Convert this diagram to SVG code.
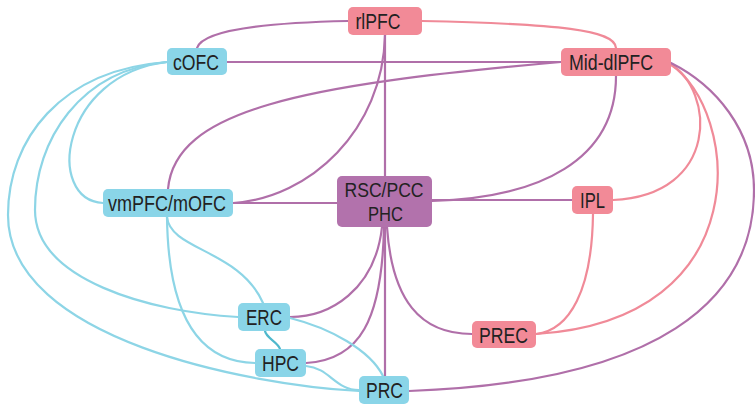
<svg xmlns="http://www.w3.org/2000/svg" width="755" height="406" viewBox="0 0 755 406">
<style>
.e{fill:none;stroke-width:2.2;stroke-linecap:round}
.p{stroke:#b06fa9}
.k{stroke:#f08a98}
.b{stroke:#8dd5e6}
.bd{stroke:#4fb8cc}
.nb{fill:#8ad5e8}
.nk{fill:#f28a97}
.np{fill:#b272ac}
text{font-family:"Liberation Sans",Arial,sans-serif;font-size:22px;fill:#222;text-anchor:middle}
.t2{font-size:21px}
</style>
<rect width="755" height="406" fill="#fff"/>
<g id="connectors">
<path class="e p" d="M197,48 Q205,24 348,21"/>
<path class="e k" d="M422,21 C560,24 615,30 616,48"/>
<path class="e p" d="M385,35 L385,176"/>
<path class="e p" d="M385,35 C383,130 310,198 233,203"/>
<path class="e p" d="M227,62 L561,62"/>
<path class="e p" d="M168,189 C175,110 300,85 561,62"/>
<path class="e p" d="M233,203 L337,203"/>
<path class="e p" d="M616,76 C616,160 540,198 432,201"/>
<path class="e p" d="M432,200 L572,200"/>
<path class="e k" d="M670,64 C715,90 720,195 613,200"/>
<path class="e k" d="M670,64 C740,110 760,320 536,334"/>
<path class="e k" d="M593,214 C592,290 570,330 536,334"/>
<path class="e p" d="M671,63 C715,85 754,130 754,190 C754,300 660,382 409,391"/>
<path class="e p" d="M382,227 C375,290 330,317 290,317"/>
<path class="e p" d="M384,227 C382,320 360,360 306,363"/>
<path class="e p" d="M385,227 L385,376"/>
<path class="e p" d="M387,227 C392,300 420,334 472,334"/>
<path class="e b" d="M290,318 C330,328 370,350 383,376"/>
<path class="e b" d="M306,366 C330,368 335,390 359,390"/>
<path class="e bd" d="M265,331 C266,338 278,342 280,349"/>
<path class="e b" d="M167,217 C170,250 240,250 263,303"/>
<path class="e b" d="M167,217 C168,300 190,362 255,363"/>
<path class="e b" d="M167,62 C60,75 45,200 103,203"/>
<path class="e b" d="M167,62 C80,70 35,140 35,210 C35,280 150,312 238,317"/>
<path class="e b" d="M167,62 C60,70 8,140 8,215 C8,340 250,385 359,391"/>
</g>
<g id="rlPFC"><rect class="nk" x="348" y="7" width="74" height="28" rx="5"/><text x="378" y="29" textLength="45" lengthAdjust="spacingAndGlyphs">rlPFC</text></g>
<g id="cOFC"><rect class="nb" x="167" y="48" width="60" height="27" rx="5"/><text x="196" y="70" textLength="46" lengthAdjust="spacingAndGlyphs">cOFC</text></g>
<g id="Mid-dlPFC"><rect class="nk" x="561" y="48" width="110" height="28" rx="5"/><text x="611" y="70" textLength="84" lengthAdjust="spacingAndGlyphs">Mid-dlPFC</text></g>
<g id="vmPFC-mOFC"><rect class="nb" x="103" y="189" width="130" height="28" rx="5"/><text x="167" y="211" textLength="118" lengthAdjust="spacingAndGlyphs">vmPFC/mOFC</text></g>
<g id="RSC-PCC-PHC"><rect class="np" x="337" y="176" width="95" height="51" rx="5"/><text class="t2" x="384" y="197" textLength="79" lengthAdjust="spacingAndGlyphs">RSC/PCC</text><text class="t2" x="385.5" y="221" textLength="35" lengthAdjust="spacingAndGlyphs">PHC</text></g>
<g id="IPL"><rect class="nk" x="572" y="186" width="41" height="28" rx="5"/><text x="592.5" y="208" textLength="25" lengthAdjust="spacingAndGlyphs">IPL</text></g>
<g id="ERC"><rect class="nb" x="238" y="303" width="52" height="28" rx="5"/><text x="264" y="325" textLength="36" lengthAdjust="spacingAndGlyphs">ERC</text></g>
<g id="HPC"><rect class="nb" x="255" y="349" width="51" height="28" rx="5"/><text x="280.5" y="371" textLength="37" lengthAdjust="spacingAndGlyphs">HPC</text></g>
<g id="PRC"><rect class="nb" x="359" y="376" width="50" height="28" rx="5"/><text x="384.5" y="398" textLength="37" lengthAdjust="spacingAndGlyphs">PRC</text></g>
<g id="PREC"><rect class="nk" x="472" y="321" width="64" height="27" rx="5"/><text x="503.5" y="343" textLength="49" lengthAdjust="spacingAndGlyphs">PREC</text></g>
</svg>
